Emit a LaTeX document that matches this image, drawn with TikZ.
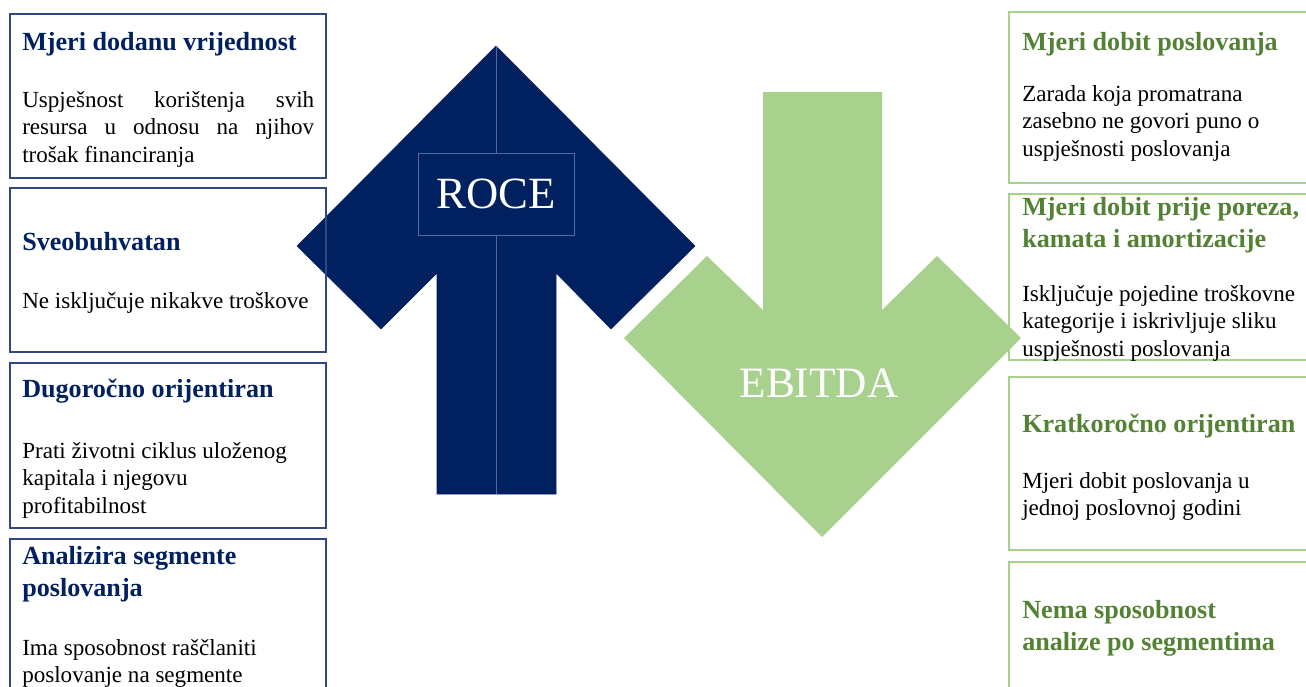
\documentclass[tikz,border=0pt]{standalone}
\usepackage{fontspec}
\setmainfont{Liberation Serif}
\usetikzlibrary{positioning}
\definecolor{roceblue}{RGB}{0,32,96}
\definecolor{roceline}{RGB}{74,108,168}
\definecolor{roceframe}{RGB}{47,72,130}
\definecolor{ebitdagreen}{RGB}{169,209,142}
\definecolor{titlegreen}{RGB}{84,130,53}

\begin{document}
\begin{tikzpicture}[x=0.75pt,y=0.75pt,yscale=-1,xscale=1,
  lbox/.style={draw=roceframe, line width=0.9pt},
  rbox/.style={draw=ebitdagreen, line width=0.9pt},
  ltitle/.style={anchor=base west, inner sep=0pt, text width=225pt, align=flush left, text=roceblue, font=\fontsize{19.6}{24}\selectfont\bfseries},
  rtitle/.style={ltitle, text=titlegreen},
  bodytext/.style={anchor=base west, inner sep=0pt, text width=225pt, align=flush left, font=\fontsize{17.3}{20.8}\selectfont}]
\useasboundingbox (0,0) rectangle (1306,686);
\clip (0,0) rectangle (1306,686);

%Up Arrow [ROCE]
\draw [fill=roceblue, draw=roceblue] (496,46) -- (695,246) -- (611,329) -- (556,273) -- (556,494) -- (437,494) -- (437,273) -- (381,329) -- (297,246) -- cycle ;
%Shape: Rectangle [ROCE label]
\draw [roceline] (418,153) -- (574,153) -- (574,235) -- (418,235) -- cycle ;
\node (roce) at (496,194) [text=white, font=\fontsize{33.5}{40}\selectfont] {ROCE};
%Straight Lines [split]
\draw [roceline] (496,46) -- (roce.north |- 0,153) ;
\draw [roceline] (roce.south |- 0,235) -- (496,494) ;

%Down Arrow [EBITDA]
\fill [ebitdagreen] (763,92) -- (882,92) -- (882,310) -- (937,256) -- (1021,338) -- (822,537) -- (624,338) -- (707,256) -- (763,310) -- cycle ;
\node (ebitda) at (819,383) [text=white, font=\fontsize{32.5}{40}\selectfont] {EBITDA};

%Shape: Rectangle [left boxes]
\draw [lbox] (10,14) -- (326,14) -- (326,178) -- (10,178) -- cycle ;
\draw [lbox] (10,188) -- (326,188) -- (326,352) -- (10,352) -- cycle ;
\draw [lbox] (10,363) -- (326,363) -- (326,528) -- (10,528) -- cycle ;
\draw [lbox] (10,539) -- (326,539) -- (326,700) -- (10,700) -- cycle ;
%Shape: Rectangle [right boxes]
\draw [rbox] (1009,12) -- (1312,12) -- (1312,183) -- (1009,183) -- cycle ;
\draw [rbox] (1009,194) -- (1312,194) -- (1312,360) -- (1009,360) -- cycle ;
\draw [rbox] (1009,377) -- (1312,377) -- (1312,550) -- (1009,550) -- cycle ;
\draw [rbox] (1009,562) -- (1312,562) -- (1312,700) -- (1009,700) -- cycle ;

% Text Node
\node (ltitle1) at (22,50) [ltitle] {Mjeri dodanu vrijednost};
\node (lbody1) at (22,107) [bodytext, text width=219pt, align=justify] {Uspješnost korištenja svih\linebreak resursa u odnosu na njihov\linebreak trošak financiranja};
\node (ltitle2) at (22,250) [ltitle] {Sveobuhvatan};
\node (lbody2) at (22,308) [bodytext] {Ne isključuje nikakve troškove};
\node (ltitle3) at (22,397) [ltitle] {Dugoročno orijentiran};
\node (lbody3) at (22,458) [bodytext] {Prati životni ciklus uloženog\\kapitala i njegovu\\profitabilnost};
\node (ltitle4) at (22,564) [ltitle] {Analizira segmente\\poslovanja};
\node (lbody4) at (22,655) [bodytext] {Ima sposobnost raščlaniti\\poslovanje na segmente};

% Text Node
\node (rtitle1) at (1022,50) [rtitle] {Mjeri dobit poslovanja};
\node (rbody1) at (1022,101) [bodytext] {Zarada koja promatrana\\zasebno ne govori puno o\\uspješnosti poslovanja};
\node (rtitle2) at (1022,215) [rtitle] {Mjeri dobit prije poreza,\\kamata i amortizacije};
\node (rbody2) at (1022,301) [bodytext] {Isključuje pojedine troškovne\\kategorije i iskrivljuje sliku\\uspješnosti poslovanja};
\node (rtitle3) at (1022,432) [rtitle] {Kratkoročno orijentiran};
\node (rbody3) at (1022,488) [bodytext] {Mjeri dobit poslovanja u\\jednoj poslovnoj godini};
\node (rtitle4) at (1022,618) [rtitle] {Nema sposobnost\\analize po segmentima};

\end{tikzpicture}
\end{document}
